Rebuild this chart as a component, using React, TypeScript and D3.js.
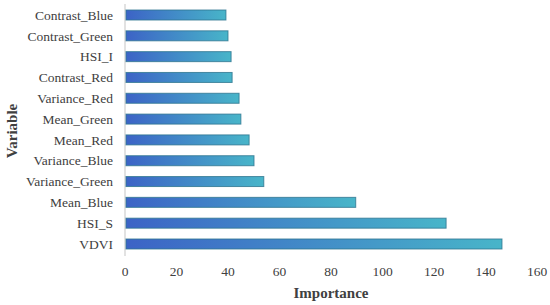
import React, { useEffect, useRef } from 'react';
import * as d3 from 'd3';

const variables = [
  'Contrast_Blue',
  'Contrast_Green',
  'HSI_I',
  'Contrast_Red',
  'Variance_Red',
  'Mean_Green',
  'Mean_Red',
  'Variance_Blue',
  'Variance_Green',
  'Mean_Blue',
  'HSI_S',
  'VDVI',
];
const importance = [39.2, 40, 41.2, 41.6, 44.3, 45, 48.2, 50.1, 53.9, 89.6, 124.7, 146.4];
const xTicks = [0, 20, 40, 60, 80, 100, 120, 140, 160];

export default function App() {
  const svgRef = useRef<SVGSVGElement>(null);

  useEffect(() => {
    if (!svgRef.current) return;
    const svg = d3.select(svgRef.current);
    svg.selectAll('*').remove();

    const font = '"Liberation Serif", "Times New Roman", serif';
    const x = d3.scaleLinear().domain([0, 160]).range([125, 537]);
    const y = d3.scalePoint<string>().domain(variables).range([4.6, 254.4]).padding(0.5);
    const barH = 10;

    const defs = svg.append('defs');
    const grad = defs
      .append('linearGradient')
      .attr('id', 'barGrad')
      .attr('x1', '0%')
      .attr('x2', '100%')
      .attr('y1', '0%')
      .attr('y2', '0%');
    grad.append('stop').attr('offset', '0%').attr('stop-color', '#3c63c6');
    grad.append('stop').attr('offset', '100%').attr('stop-color', '#48b5c9');

    // Y axis line
    svg
      .append('line')
      .attr('x1', x(0))
      .attr('x2', x(0))
      .attr('y1', 4)
      .attr('y2', 256)
      .attr('stroke', '#d9d9d9')
      .attr('stroke-width', 1.5);

    // Bars
    svg
      .selectAll('.bar')
      .data(variables)
      .enter()
      .append('rect')
      .attr('class', 'bar')
      .attr('x', x(0) + 1)
      .attr('y', (d) => (y(d) || 0) - barH / 2)
      .attr('width', (d, i) => x(importance[i]) - x(0) - 1)
      .attr('height', barH)
      .attr('fill', 'url(#barGrad)')
      .attr('stroke', '#2e7590')
      .attr('stroke-opacity', 0.8)
      .attr('stroke-width', 1);

    // Y tick labels
    svg
      .selectAll('.ylab')
      .data(variables)
      .enter()
      .append('text')
      .attr('class', 'ylab')
      .attr('x', 113)
      .attr('y', (d) => y(d) || 0)
      .attr('dy', '0.35em')
      .attr('text-anchor', 'end')
      .style('font-family', font)
      .style('font-size', '13.5px')
      .style('fill', '#404040')
      .text((d) => d);

    // X tick labels
    svg
      .selectAll('.xlab')
      .data(xTicks)
      .enter()
      .append('text')
      .attr('class', 'xlab')
      .attr('x', (d) => x(d))
      .attr('y', 271)
      .attr('dy', '0.35em')
      .attr('text-anchor', 'middle')
      .style('font-family', font)
      .style('font-size', '13.5px')
      .style('fill', '#404040')
      .text((d) => d);

    svg
      .append('text')
      .attr('x', 331)
      .attr('y', 293)
      .attr('dy', '0.35em')
      .attr('text-anchor', 'middle')
      .style('font-family', font)
      .style('font-size', '15px')
      .style('font-weight', 'bold')
      .style('fill', '#404040')
      .text('Importance');

    svg
      .append('text')
      .attr('transform', 'translate(12,131) rotate(-90)')
      .attr('dy', '0.35em')
      .attr('text-anchor', 'middle')
      .style('font-family', font)
      .style('font-size', '15px')
      .style('font-weight', 'bold')
      .style('fill', '#404040')
      .text('Variable');
  }, []);

  return (
    <svg
      ref={svgRef}
      width={550}
      height={305}
      style={{ position: 'absolute', left: 0, top: 0, background: '#fff' }}
    ></svg>
  );
}
